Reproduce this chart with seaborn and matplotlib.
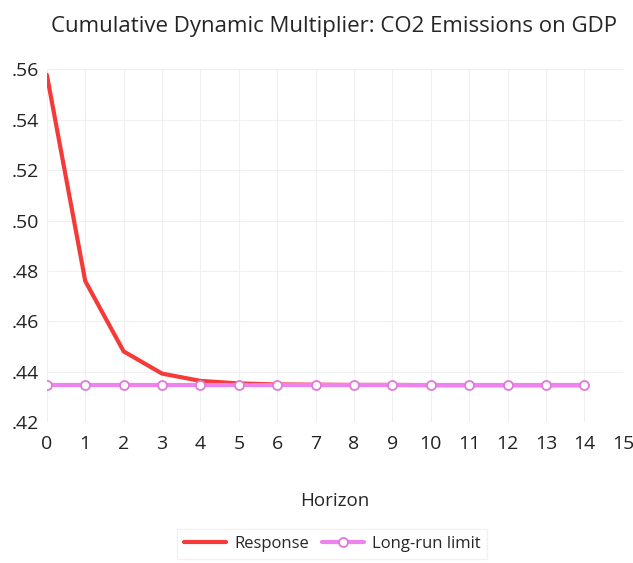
import numpy as np
import pandas as pd
import matplotlib
matplotlib.use("Agg")
import matplotlib.pyplot as plt
import seaborn as sns
from matplotlib.ticker import FuncFormatter

horizon = list(range(15))
response = [0.5578, 0.4760, 0.4481, 0.4393, 0.4364, 0.4354, 0.4350, 0.4349,
            0.4348, 0.4348, 0.4347, 0.4347, 0.4347, 0.4347, 0.4347]
long_run = [0.4347] * 15

sns.set_theme(style="white")
plt.rcParams['font.family'] = ['Open Sans', 'DejaVu Sans']

df = pd.DataFrame({'Horizon': horizon, 'Response': response, 'Long-run limit': long_run})

fig = plt.figure(figsize=(6.33, 5.63), dpi=100)
ax = fig.add_axes([0.074, 0.25, 0.91, 0.627])

sns.lineplot(data=df, x='Horizon', y='Response', ax=ax, color='#f53a3a',
             linewidth=3, label='Response')
sns.lineplot(data=df, x='Horizon', y='Long-run limit', ax=ax, color='#ee82ee',
             linewidth=3, marker='o', markersize=6.5, markerfacecolor='white',
             markeredgecolor='#e07ad8', markeredgewidth=1.3, label='Long-run limit')

ax.set_xlim(0, 15)
ax.set_ylim(0.42, 0.56)
ax.set_xticks(range(16))
ax.set_yticks(np.arange(0.42, 0.561, 0.02))
ax.yaxis.set_major_formatter(FuncFormatter(lambda v, p: f"{v:.2f}".lstrip('0')))
ax.grid(True, color='#f0f0f0', linewidth=0.8)
for s in ax.spines.values():
    s.set_visible(False)
ax.tick_params(axis='both', labelsize=14, colors='#222222', length=0)
ax.tick_params(axis='y', pad=6)
ax.tick_params(axis='x', pad=9)

ax.set_xlabel('Horizon', fontsize=13.5, labelpad=28)
ax.set_ylabel('')
fig.suptitle('Cumulative Dynamic Multiplier: CO2 Emissions on GDP', fontsize=16,
             x=0.527, y=0.972)

ax.get_legend().remove()
handles, labels = ax.get_legend_handles_labels()
leg = fig.legend(handles, labels, loc='center', bbox_to_anchor=(0.525, 0.034), ncol=2,
                 fontsize=12, frameon=True, fancybox=False, edgecolor='#eeeeee',
                 handlelength=2.5, columnspacing=0.8, handletextpad=0.5)

fig.savefig('out.png', dpi=100)
